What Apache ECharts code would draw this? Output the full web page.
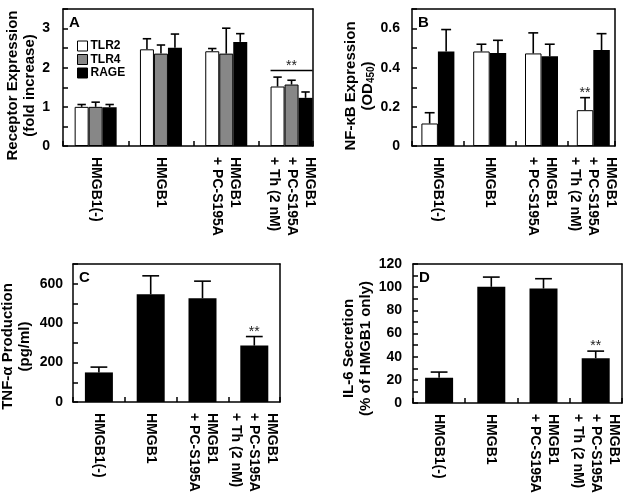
<!DOCTYPE html>
<html><head><meta charset="utf-8">
<script src="https://cdn.jsdelivr.net/npm/echarts@6/dist/echarts.min.js"></script>
<style>html,body{margin:0;padding:0;background:#fff}#c{width:629px;height:503px}</style>
</head><body><div id="c"></div>
<script>
// ---------- data ----------
const categories = ['HMGB1(-)', 'HMGB1', 'HMGB1\n+ PC-S195A', 'HMGB1\n+ PC-S195A\n+ Th (2 nM)'];

// Panel A: receptor expression (fold increase)
const aTLR2 = [1.00, 2.47, 2.42, 1.52];
const aTLR2Err = [0.06, 0.27, 0.07, 0.24];
const aTLR4 = [1.00, 2.36, 2.36, 1.57];
const aTLR4Err = [0.12, 0.22, 0.65, 0.11];
const aRAGE = [0.99, 2.51, 2.66, 1.23];
const aRAGEErr = [0.07, 0.35, 0.21, 0.15];
const aBracketGroup = 3;      // bracket "**" over this group
const aBracketLevel = 1.93;   // y value of bracket line
const yLabelsA = ['0', '1', '2', '3'];

// Panel B: NF-kB expression (OD450)
const bWhite = [0.115, 0.483, 0.473, 0.183];
const bWhiteErr = [0.055, 0.037, 0.105, 0.064];
const bWhiteSig = [0, 0, 0, 1];
const bBlack = [0.483, 0.475, 0.458, 0.490];
const bBlackErr = [0.112, 0.065, 0.062, 0.084];
const yLabelsB = ['0', '0.2', '0.4', '0.6'];

// Panel C: TNF-alpha production (pg/ml)
const cTNF = [150, 546, 526, 286];
const cTNFErr = [27, 94, 87, 46];
const cSig = [0, 0, 0, 1];
const yLabelsC = ['0', '200', '400', '600'];

// Panel D: IL-6 secretion (% of HMGB1 only)
const dIL6 = [21.8, 100.3, 98.8, 38.7];
const dIL6Err = [4.9, 8.4, 8.5, 6.1];
const dSig = [0, 0, 0, 1];
const yLabelsD = ['0', '20', '40', '60', '80', '100', '120'];

const legendNames = ['TLR2', 'TLR4', 'RAGE'];
const none4 = [0, 0, 0, 0];

// ---------- layout / style ----------
const FONT = '"Liberation Sans", Arial, Helvetica, sans-serif';
const WHITE = '#ffffff', GREY = '#878787', BLACK = '#000000';

const panels = [
  { letter: 'A', left: 63, top: 9, height: 137, cw: 65.3, frameW: 250, max: 3.5, step: 0.5,
    labels: yLabelsA, labelMargin: 13, nameGap: 22, namePad: 16, bw: 14,
    name: 'Receptor Expression\n(fold increase)',
    series: [
      { name: 'TLR2', data: aTLR2, err: aTLR2Err, color: WHITE, sig: none4 },
      { name: 'TLR4', data: aTLR4, err: aTLR4Err, color: GREY, sig: none4 },
      { name: 'RAGE', data: aRAGE, err: aRAGEErr, color: BLACK, sig: none4 }
    ], bracket: true },
  { letter: 'B', left: 412, top: 9, height: 137, cw: 51.8, frameW: 203, max: 0.7, step: 0.1,
    labels: yLabelsB, labelMargin: 12, nameGap: 33, namePad: 17, bw: 16.5,
    name: '{a|NF-κB Expression}\n{a|(OD}{s|450}{a|)}', rich: true,
    series: [
      { name: 'B-white', data: bWhite, err: bWhiteErr, color: WHITE, sig: bWhiteSig },
      { name: 'B-black', data: bBlack, err: bBlackErr, color: BLACK, sig: none4 }
    ] },
  { letter: 'C', left: 73, top: 264, height: 138, cw: 51.8, frameW: 207, max: 700, step: 100,
    labels: yLabelsC, labelMargin: 10, nameGap: 40, namePad: 27, bw: 28,
    name: 'TNF-α Production\n(pg/ml)',
    series: [ { name: 'C-tnf', data: cTNF, err: cTNFErr, color: BLACK, sig: cSig } ] },
  { letter: 'D', left: 413, top: 264, height: 139, cw: 52.2, frameW: 209, max: 120, step: 10,
    labels: yLabelsD, labelMargin: 11, nameGap: 36, namePad: 30, bw: 28,
    name: 'IL-6 Secretion\n(% of HMGB1 only)',
    series: [ { name: 'D-il6', data: dIL6, err: dIL6Err, color: BLACK, sig: dSig } ] }
];

const lineStyle = { color: '#000', width: 1.5 };
const option = {
  animation: false,
  backgroundColor: '#fff',
  textStyle: { fontFamily: FONT },
  grid: [], xAxis: [], yAxis: [], series: [], title: [],
  legend: {
    data: legendNames, orient: 'vertical', left: 77, top: 40, padding: 0, icon: 'rect',
    itemWidth: 10, itemHeight: 10, itemGap: 1.5, itemStyle: { borderColor: '#000', borderWidth: 1 },
    textStyle: { fontSize: 12, fontWeight: 'bold', fontFamily: FONT, color: '#000', lineHeight: 12, padding: [0, 0, 0, -2] },
    selectedMode: false
  }
};

function errRender(offset, cap) {
  return function (params, api) {
    const i = api.value(0), v = api.value(1), e = api.value(2), s = api.value(3);
    const p0 = api.coord([i, v]);
    const p1 = api.coord([i, v + e]);
    const x = p0[0] + offset;
    const children = [
      { type: 'line', shape: { x1: x, y1: p0[1], x2: x, y2: p1[1] }, style: { stroke: '#000', lineWidth: 1.6 } },
      { type: 'line', shape: { x1: x - cap, y1: p1[1], x2: x + cap, y2: p1[1] }, style: { stroke: '#000', lineWidth: 1.6 } }
    ];
    if (s) children.push({ type: 'text', x: x, y: p1[1] - 4.5,
      style: { text: '**', fill: '#222', font: '14px ' + FONT, align: 'center', verticalAlign: 'middle' } });
    return { type: 'group', children: children };
  };
}

panels.forEach(function (p) {
  const gBar = option.grid.length;
  option.grid.push({ left: p.left, top: p.top, width: p.cw * categories.length, height: p.height,
    containLabel: false, outerBoundsMode: 'none' });
  const gFrame = option.grid.length;
  option.grid.push({ left: p.left, top: p.top, width: p.frameW, height: p.height,
    containLabel: false, outerBoundsMode: 'none' });

  const xBar = option.xAxis.length;
  option.xAxis.push({ type: 'category', gridIndex: gBar, data: categories,
    axisLine: { show: false }, axisTick: { show: false }, splitLine: { show: false },
    axisLabel: { rotate: -90, margin: 11, interval: 0, fontSize: 14, fontWeight: 'bold',
      color: '#000', fontFamily: FONT, lineHeight: 18 } });
  const xMax = p.frameW / p.cw;
  option.xAxis.push({ type: 'value', gridIndex: gFrame, min: 0, max: xMax, interval: 1, position: 'bottom', z: 5,
    axisLine: { show: true, onZero: false, lineStyle: lineStyle },
    axisTick: { show: true, inside: true, length: 5, lineStyle: lineStyle },
    axisLabel: { show: false }, splitLine: { show: false } });
  option.xAxis.push({ type: 'value', gridIndex: gFrame, min: 0, max: xMax, position: 'top', z: 5,
    axisLine: { show: true, onZero: false, lineStyle: lineStyle },
    axisTick: { show: false }, axisLabel: { show: false }, splitLine: { show: false } });

  const yBar = option.yAxis.length;
  option.yAxis.push({ type: 'value', gridIndex: gBar, min: 0, max: p.max, show: false, splitLine: { show: false } });
  const labels = p.labels;
  const nameStyle = { fontSize: 15, fontWeight: 'bold', fontFamily: FONT, color: '#000', lineHeight: 17,
    padding: [0, p.namePad, 0, 0] };
  if (p.rich) {
    nameStyle.rich = {
      a: { fontSize: 15, fontWeight: 'bold', fontFamily: FONT, color: '#000', lineHeight: 17 },
      s: { fontSize: 10, fontWeight: 'bold', fontFamily: FONT, color: '#000', lineHeight: 6, verticalAlign: 'bottom' }
    };
  }
  option.yAxis.push({ type: 'value', gridIndex: gFrame, min: 0, max: p.max, interval: p.step, position: 'left', z: 5,
    name: p.name, nameLocation: 'middle', nameGap: p.nameGap, nameRotate: 90, nameTextStyle: nameStyle,
    axisLine: { show: true, onZero: false, lineStyle: lineStyle },
    axisTick: { show: true, inside: true, length: 5, lineStyle: lineStyle },
    axisLabel: { margin: p.labelMargin, fontSize: 14, fontWeight: 'bold', color: '#000', fontFamily: FONT,
      showMaxLabel: true,
      formatter: function (v) {
        for (let k = 0; k < labels.length; k++) {
          if (Math.abs(parseFloat(labels[k]) - v) < 1e-6) return labels[k];
        }
        return '';
      } },
    splitLine: { show: false } });
  option.yAxis.push({ type: 'value', gridIndex: gFrame, min: 0, max: p.max, position: 'right', z: 5,
    axisLine: { show: true, onZero: false, lineStyle: lineStyle },
    axisTick: { show: false }, axisLabel: { show: false }, splitLine: { show: false } });

  const n = p.series.length;
  p.series.forEach(function (s, si) {
    option.series.push({ type: 'bar', name: s.name, xAxisIndex: xBar, yAxisIndex: yBar, data: s.data,
      barWidth: p.bw, barGap: '0%', silent: true, z: 2,
      itemStyle: { color: s.color, borderColor: '#000', borderWidth: s.color === BLACK ? 0 : 1 } });
    const offset = (si - (n - 1) / 2) * p.bw;
    option.series.push({ type: 'custom', name: s.name + '-err', xAxisIndex: xBar, yAxisIndex: yBar, z: 3, silent: true,
      encode: { x: 0, y: 1 },
      data: s.data.map(function (v, i) { return [i, v, s.err[i], s.sig[i]]; }),
      renderItem: errRender(offset, p.bw * 0.3) });
  });

  if (p.bracket) {
    const half = n * p.bw / 2;
    option.series.push({ type: 'custom', name: 'A-bracket', xAxisIndex: xBar, yAxisIndex: yBar, z: 3, silent: true,
      encode: { x: 0, y: 1 },
      data: [[aBracketGroup, aBracketLevel]],
      renderItem: function (params, api) {
        const c = api.coord([api.value(0), api.value(1)]);
        return { type: 'group', children: [
          { type: 'line', shape: { x1: c[0] - half, y1: c[1], x2: c[0] + half, y2: c[1] }, style: { stroke: '#000', lineWidth: 1.5 } },
          { type: 'text', x: c[0], y: c[1] - 4, style: { text: '**', fill: '#222', font: '14px ' + FONT, align: 'center', verticalAlign: 'middle' } }
        ] };
      } });
  }

  option.title.push({ text: p.letter, left: p.left + 6, top: p.top + 6, padding: 0,
    textStyle: { fontSize: 15, fontWeight: 'bold', fontFamily: FONT, color: '#000' } });
});

const chart = echarts.init(document.getElementById('c'), null, { renderer: 'canvas' });
chart.setOption(option);
</script>
</body></html>
